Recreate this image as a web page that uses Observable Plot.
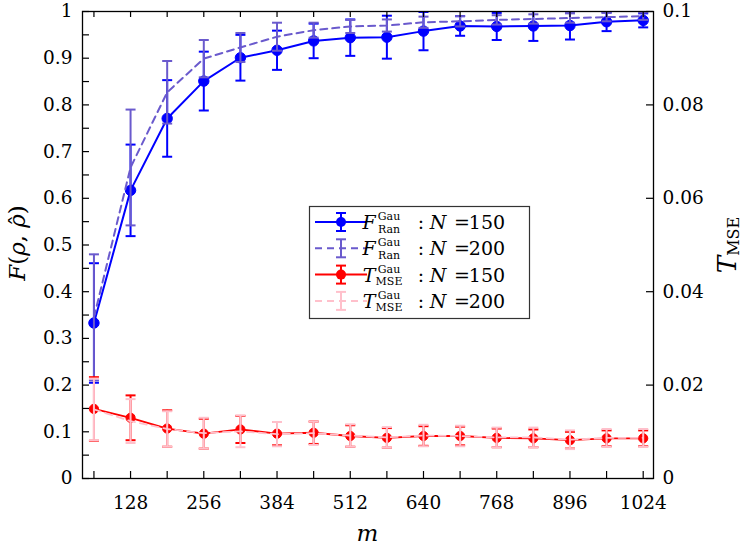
<!DOCTYPE html>
<html><head><meta charset="utf-8">
<script src="https://cdn.jsdelivr.net/npm/d3@7"></script>
<script src="https://cdn.jsdelivr.net/npm/@observablehq/plot@0.6"></script>
<style>body{margin:0;background:#fff;} #chart{position:relative;width:747px;height:549px;} svg text{font-family:"DejaVu Serif",serif;}</style>
</head><body><div id="chart"></div>
<script>
const mValues = [64,128,192,256,320,384,448,512,576,640,704,768,832,896,960,1024];
const fRan150 = [0.333,0.617,0.771,0.851,0.901,0.917,0.937,0.944,0.945,0.958,0.969,0.968,0.969,0.970,0.978,0.981];
const fRan150Err = [0.128,0.098,0.082,0.063,0.049,0.042,0.037,0.039,0.046,0.041,0.021,0.029,0.032,0.030,0.020,0.015];
const fRan200 = [0.345,0.666,0.827,0.899,0.923,0.946,0.960,0.968,0.970,0.977,0.979,0.982,0.984,0.986,0.988,0.990];
const fRan200Err = [0.135,0.124,0.067,0.040,0.031,0.030,0.016,0.014,0.013,0.012,0.011,0.010,0.010,0.010,0.009,0.008];
const tMse150 = [0.0149,0.0130,0.0107,0.0096,0.0105,0.0096,0.0098,0.0091,0.0087,0.0091,0.0091,0.0087,0.0086,0.0082,0.0086,0.0086];
const tMse150Err = [0.0068,0.0048,0.0039,0.0032,0.0029,0.0025,0.0024,0.0023,0.0021,0.0021,0.0020,0.0020,0.0019,0.0018,0.0017,0.0017];
const tMse200 = [0.0148,0.0123,0.0106,0.0097,0.0101,0.0095,0.0097,0.0092,0.0088,0.0092,0.0091,0.0088,0.0088,0.0083,0.0087,0.0087];
const tMse200Err = [0.0066,0.0047,0.0038,0.0033,0.0034,0.0026,0.0025,0.0024,0.0022,0.0023,0.0022,0.0021,0.0021,0.0020,0.0019,0.0019];
const xTickLabels = [128,256,384,512,640,768,896,1024];
const yTicksLeft = [0,0.1,0.2,0.3,0.4,0.5,0.6,0.7,0.8,0.9,1];
const yMinorLeft = [0.05,0.15,0.25,0.35,0.45,0.55,0.65,0.75,0.85,0.95];
const yTicksRight = [0,0.02,0.04,0.06,0.08,0.1];
const tScale = 10; // right axis 0..0.1 shares the left axis 0..1

const BLUE = "#0000ff", PURPLE = "#6a5acd", RED = "#ff0000", PINK = "#ffc0cb";
const FONT = "DejaVu Serif, serif";

function rows(vals, errs, k) {
  return mValues.map((m, i) => ({m, v: vals[i]*k, lo: (vals[i]-errs[i])*k, hi: (vals[i]+errs[i])*k}));
}
const dF150 = rows(fRan150, fRan150Err, 1);
const dF200 = rows(fRan200, fRan200Err, 1);
const dT150 = rows(tMse150, tMse150Err, tScale);
const dT200 = rows(tMse200, tMse200Err, tScale);

const capSymbol = {draw(ctx, size) { const w = Math.sqrt(size/Math.PI); ctx.moveTo(-w, 0); ctx.lineTo(w, 0); }};

function series(data, color, {dash = null, dot = false, r = 5, width = 2} = {}) {
  const marks = [
    Plot.line(data, {x: "m", y: "v", stroke: color, strokeWidth: width, strokeDasharray: dash, clip: true}),
    Plot.ruleX(data, {x: "m", y1: "lo", y2: "hi", stroke: color, strokeWidth: 2, clip: true}),
    Plot.dot(data, {x: "m", y: "lo", symbol: capSymbol, r: 5, stroke: color, fill: "none", strokeWidth: 2, clip: true}),
    Plot.dot(data, {x: "m", y: "hi", symbol: capSymbol, r: 5, stroke: color, fill: "none", strokeWidth: 2, clip: true})
  ];
  if (dot) marks.push(Plot.dot(data, {x: "m", y: "v", r, fill: color, stroke: color, strokeWidth: 1}));
  return marks;
}

const W = 747, H = 549, mL = 82, mR = 94, mT = 11, mB = 71;
const pW = W - mL - mR, pH = H - mT - mB;

const svg = Plot.plot({
  width: W, height: H,
  marginLeft: mL, marginRight: mR, marginTop: mT, marginBottom: mB,
  style: {fontFamily: FONT, fontSize: "18.5px", background: "white", color: "black", overflow: "visible"},
  x: {domain: [44, 1042]},
  y: {domain: [0, 1]},
  marks: [
    ...series(dF150, BLUE, {dot: true, r: 5.2}),
    ...series(dF200, PURPLE, {dash: "7,5"}),
    ...series(dT150, RED, {dot: true, r: 4.6, width: 1.8}),
    ...series(dT200, PINK, {dash: "7,5", width: 1.8}),
    Plot.tickY([...yTicksLeft, ...yMinorLeft], {y: d => d, insetRight: pW - 7, stroke: "black", strokeWidth: 1.2}),
    Plot.tickY(yTicksRight, {y: d => d*tScale, insetLeft: pW - 7, stroke: "black", strokeWidth: 1.2}),
    Plot.tickX(mValues, {x: d => d, insetTop: pH - 7, stroke: "black", strokeWidth: 1.2}),
    Plot.tickX(mValues, {x: d => d, insetBottom: pH - 6, stroke: "black", strokeWidth: 1.2}),
    Plot.axisX(xTickLabels, {anchor: "bottom", tickSize: 0, tickPadding: 17, label: null, tickFormat: d => String(d)}),
    Plot.axisY(yTicksLeft, {anchor: "left", tickSize: 0, tickPadding: 10, label: null,
      tickFormat: d => (d === 0 || d === 1) ? String(d) : d.toFixed(1)}),
    Plot.axisY(yTicksRight.map(t => t*tScale), {anchor: "right", tickSize: 0, tickPadding: 9, label: null,
      tickFormat: d => String(+(d/tScale).toFixed(2))}),
    Plot.frame({stroke: "black", strokeWidth: 1.3})
  ]
});
document.getElementById("chart").appendChild(svg);

const g = d3.select(svg).append("g").attr("font-family", FONT).attr("fill", "black");

// axis titles
const yl = g.append("text").attr("transform", `translate(25,243) rotate(-90)`).attr("text-anchor", "middle").attr("font-size", 23);
yl.append("tspan").attr("font-style", "italic").text("F");
yl.append("tspan").text("(");
yl.append("tspan").attr("font-style", "italic").text("ρ");
yl.append("tspan").text(", ");
yl.append("tspan").attr("font-style", "italic").text("ρ");
yl.append("tspan").attr("dx", "-0.52em").attr("dy", "0.05em").text("ˆ");
yl.append("tspan").attr("dx", "0.02em").attr("dy", "-0.05em").text(")");

const rl = g.append("text").attr("transform", `translate(736,245) rotate(-90)`).attr("text-anchor", "middle").attr("font-size", 26);
rl.append("tspan").attr("font-style", "italic").text("T");
rl.append("tspan").attr("font-size", 16).attr("dy", 3).text("MSE");

g.append("text").attr("x", mL + pW/2).attr("y", 541).attr("text-anchor", "middle").attr("font-size", 23).attr("font-style", "italic").text("m");

// legend
const legendItems = [
  {color: BLUE, dash: null, dot: true, main: "F", sup: "Gau", sub: "Ran", n: "150"},
  {color: PURPLE, dash: "7,5", dot: false, main: "F", sup: "Gau", sub: "Ran", n: "200"},
  {color: RED, dash: null, dot: true, main: "T", sup: "Gau", sub: "MSE", n: "150"},
  {color: PINK, dash: "7,5", dot: false, main: "T", sup: "Gau", sub: "MSE", n: "200"}
];
const lg = g.append("g");
lg.append("rect").attr("x", 309.5).attr("y", 206.5).attr("width", 220).attr("height", 112)
  .attr("fill", "white").attr("stroke", "#333").attr("stroke-width", 1.2);
legendItems.forEach((it, i) => {
  const y = 222 + i*26.3;
  const row = lg.append("g");
  row.append("line").attr("x1", 315).attr("x2", 367).attr("y1", y).attr("y2", y)
    .attr("stroke", it.color).attr("stroke-width", 2).attr("stroke-dasharray", it.dash);
  row.append("line").attr("x1", 341).attr("x2", 341).attr("y1", y-9).attr("y2", y+9).attr("stroke", it.color).attr("stroke-width", 2);
  row.append("line").attr("x1", 336).attr("x2", 346).attr("y1", y-9).attr("y2", y-9).attr("stroke", it.color).attr("stroke-width", 2);
  row.append("line").attr("x1", 336).attr("x2", 346).attr("y1", y+9).attr("y2", y+9).attr("stroke", it.color).attr("stroke-width", 2);
  if (it.dot) row.append("circle").attr("cx", 341).attr("cy", y).attr("r", 5).attr("fill", it.color);
  row.append("text").attr("x", 369).attr("y", y+7).attr("font-size", 19).attr("font-style", "italic").text(it.main);
  row.append("text").attr("x", 389).attr("y", y-2).attr("font-size", 11).text(it.sup);
  row.append("text").attr("x", 389).attr("y", y+10.5).attr("font-size", 11).text(it.sub);
  row.append("text").attr("x", 421).attr("y", y+7).attr("font-size", 19).text(":");
  row.append("text").attr("x", 438).attr("y", y+7).attr("font-size", 19).attr("font-style", "italic").text("N");
  row.append("text").attr("x", 462).attr("y", y+7).attr("font-size", 19).text("=");
  row.append("text").attr("x", 487).attr("y", y+7).attr("font-size", 19).text(it.n);
});
</script>
</body></html>
